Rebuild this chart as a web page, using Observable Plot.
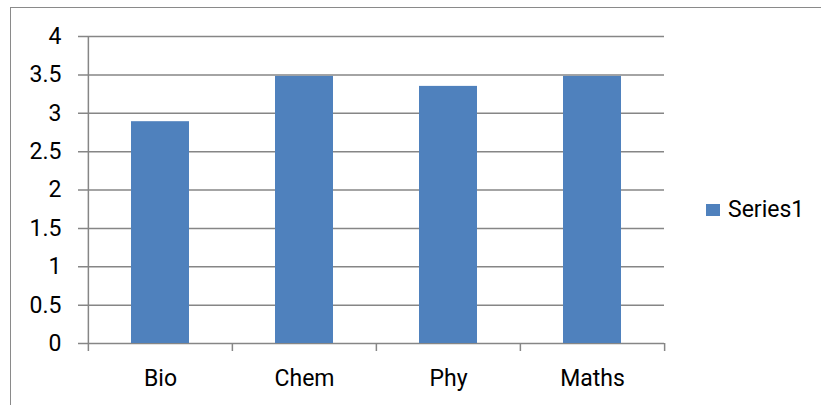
<!DOCTYPE html>
<html>
<head>
<meta charset="utf-8">
<script src="https://cdn.jsdelivr.net/npm/d3@7"></script>
<script src="https://cdn.jsdelivr.net/npm/@observablehq/plot@0.6"></script>
<style>
  html, body { margin: 0; padding: 0; background: #fff; overflow: hidden; }
  #wrap { position: relative; width: 821px; height: 405px; }
  #frame { position: absolute; left: 10px; top: 7px; width: 900px; height: 500px; border: 1px solid #8a8a8a; box-sizing: border-box; }
  #chart { position: absolute; left: 0; top: 0; }
  #legend { position: absolute; left: 706px; top: 196px; display: flex; align-items: center; font-family: Roboto, sans-serif; font-size: 23px; color: #000; }
  #legend .sw { width: 14px; height: 12px; background: #4F81BD; margin-right: 8px; }
</style>
</head>
<body>
<div id="wrap">
  <div id="frame"></div>
  <div id="chart"></div>
  <div id="legend"><div class="sw"></div><span id="legendText"></span></div>
</div>
<script>
const categories = ["Bio", "Chem", "Phy", "Maths"];
const values = [2.89, 3.48, 3.35, 3.48];
const yTicks = [0, 0.5, 1, 1.5, 2, 2.5, 3, 3.5, 4];
const seriesName = "Series1";

const data = categories.map((c, i) => ({ subject: c, value: values[i] }));

const W = 821, H = 405, ml = 87, mr = 157, mt = 36, mb = 62;
const step = (W - ml - mr) / categories.length;
const grid = "#868686";

const chart = Plot.plot({
  width: W,
  height: H,
  marginLeft: ml,
  marginRight: mr,
  marginTop: mt,
  marginBottom: mb,
  style: { fontFamily: "Roboto, sans-serif", fontSize: "23px", color: "#000", background: "transparent" },
  x: { domain: categories, paddingInner: 0.6, paddingOuter: 0.3, label: null },
  y: { domain: [0, 4], label: null },
  marks: [
    Plot.ruleY(yTicks, { y: d => d, stroke: grid, strokeWidth: 1.5, insetLeft: -9 }),
    Plot.barY(data, { x: "subject", y: "value", fill: "#4F81BD" }),
    Plot.ruleX([categories[0]], { x: d => d, dx: -step / 2, y1: 4, y2: 0, insetBottom: -8, stroke: grid, strokeWidth: 1.5 }),
    Plot.ruleX(categories.slice(1), { x: d => d, dx: -step / 2, y1: 0, y2: 0, insetBottom: -8, stroke: grid, strokeWidth: 1.5 }),
    Plot.ruleX([categories[categories.length - 1]], { x: d => d, dx: step / 2, y1: 0, y2: 0, insetBottom: -8, stroke: grid, strokeWidth: 1.5 }),
    Plot.axisY({ ticks: yTicks, tickSize: 0, tickPadding: 26, tickFormat: d => String(d), label: null }),
    Plot.axisX({ tickSize: 0, tickPadding: 26, label: null })
  ]
});
document.getElementById("chart").appendChild(chart);
document.getElementById("legendText").textContent = seriesName;
</script>
</body>
</html>
